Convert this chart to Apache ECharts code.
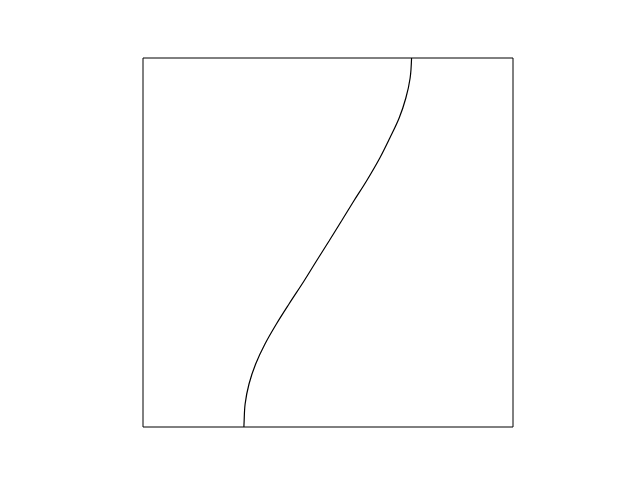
<!DOCTYPE html>
<html>
<head>
<meta charset="utf-8">
<script src="https://cdn.jsdelivr.net/npm/echarts@6/dist/echarts.min.js"></script>
<style>html,body{margin:0;padding:0;background:#fff}#c{width:640px;height:480px}</style>
</head>
<body>
<div id="c"></div>
<script>
// Curve samples (normalized units, axes span -1..1)
const curveY = [-1, -0.9837, -0.8753, -0.7669, -0.6585, -0.5501, -0.4417, -0.3333, -0.2087, -0.1003, 0.0081, 0.1165, 0.2249, 0.3333, 0.4580, 0.5664, 0.6748, 0.7832, 0.8916, 1];
const curveX = [-0.4545, -0.4540, -0.4480, -0.4270, -0.3911, -0.3407, -0.2790, -0.2108, -0.1296, -0.0625, 0.0057, 0.0728, 0.1394, 0.2081, 0.2801, 0.3342, 0.3846, 0.4208, 0.4440, 0.4517];

const data = curveY.map((y, i) => [curveX[i], y]);
const chart = echarts.init(document.getElementById('c'), null, {renderer: 'canvas'});
const hiddenAxis = {
  type: 'value', min: -1, max: 1,
  axisLine: {show: false}, axisTick: {show: false},
  axisLabel: {show: false}, splitLine: {show: false}
};
chart.setOption({
  backgroundColor: '#ffffff',
  animation: false,
  grid: {left: 143, top: 58, right: 127, bottom: 53, show: true, borderColor: '#000', borderWidth: 1, backgroundColor: 'transparent'},
  xAxis: hiddenAxis,
  yAxis: hiddenAxis,
  series: [{
    type: 'line',
    data: data,
    smooth: 0.35,
    showSymbol: false,
    symbol: 'none',
    lineStyle: {color: '#000', width: 1.2}
  }]
});
</script>
</body>
</html>
